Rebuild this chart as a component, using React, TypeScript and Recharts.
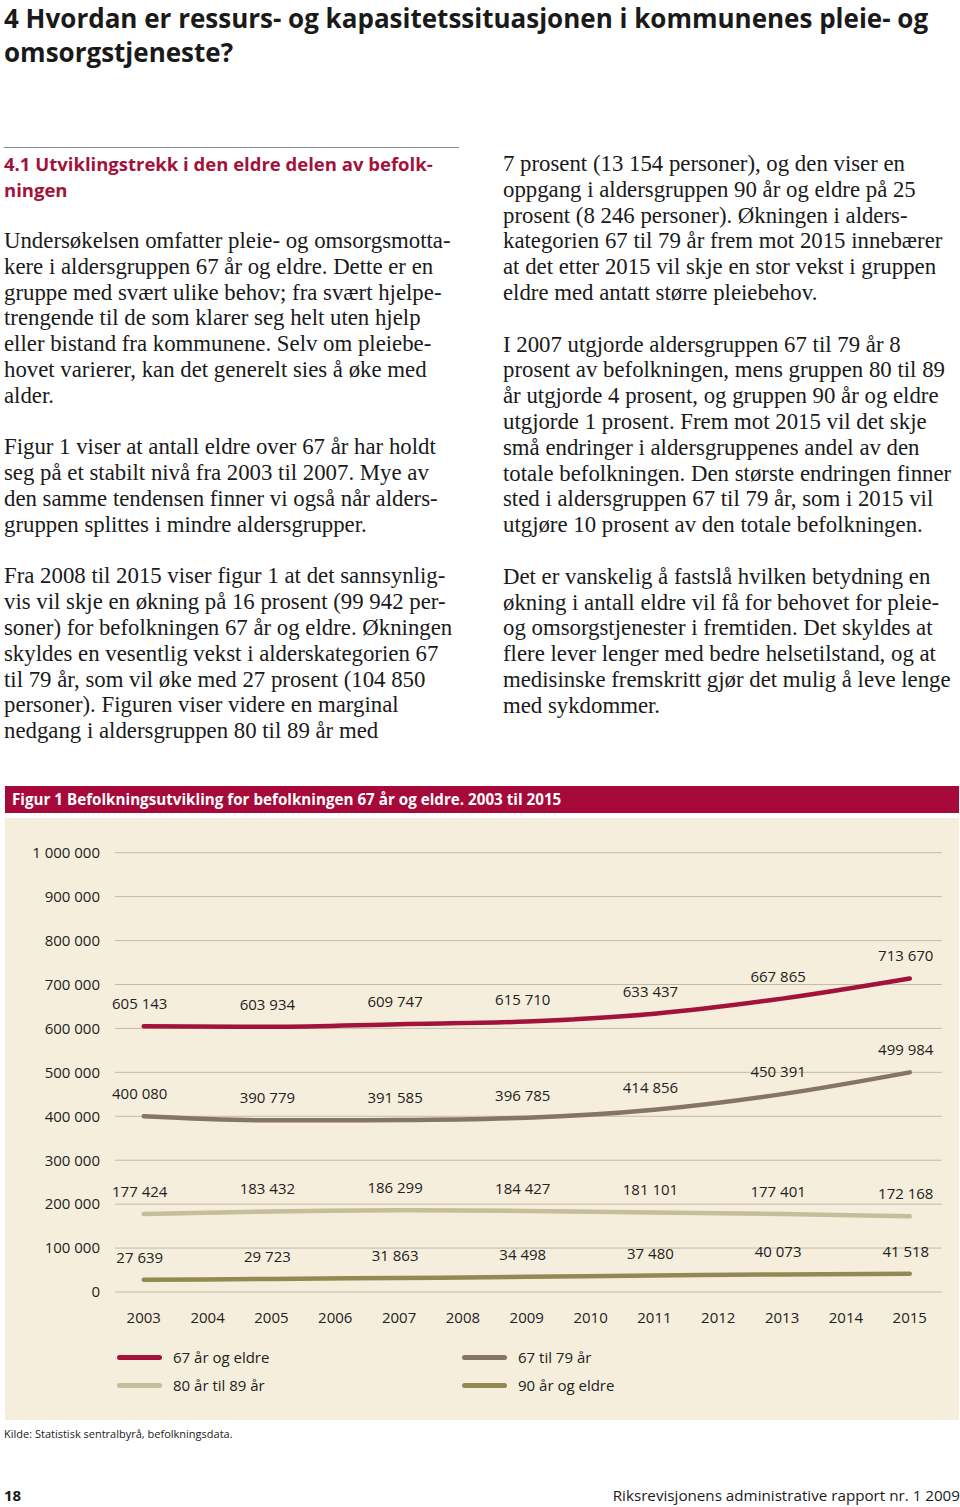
import React from "react";
import { LineChart, Line, XAxis, YAxis, CartesianGrid, LabelList } from "recharts";

// years with a value, and the tick years on the axis
const years = [2003, 2005, 2007, 2009, 2011, 2013, 2015];
const tickYears = [2003, 2004, 2005, 2006, 2007, 2008, 2009, 2010, 2011, 2012, 2013, 2014, 2015];
const yTicks = [0, 100000, 200000, 300000, 400000, 500000, 600000, 700000, 800000, 900000, 1000000];

const total67 = [605143, 603934, 609747, 615710, 633437, 667865, 713670];
const age67to79 = [400080, 390779, 391585, 396785, 414856, 450391, 499984];
const age80to89 = [177424, 183432, 186299, 184427, 181101, 177401, 172168];
const age90 = [27639, 29723, 31863, 34498, 37480, 40073, 41518];

const seriesNames = ["67 år og eldre", "67 til 79 år", "80 år til 89 år", "90 år og eldre"];
const seriesKeys = ["total67", "age67to79", "age80to89", "age90"];
const seriesColors = ["#A3123B", "#857468", "#C6BD9A", "#928A52"];

const data = years.map((year, i) => ({
  year,
  total67: total67[i],
  age67to79: age67to79[i],
  age80to89: age80to89[i],
  age90: age90[i],
}));

const fmt = (v: number) => String(v).replace(/\B(?=(\d{3})+(?!\d))/g, " ");

const leftText = [
  [
    "Undersøkelsen omfatter pleie- og omsorgsmotta-",
    "kere i aldersgruppen 67 år og eldre. Dette er en",
    "gruppe med svært ulike behov; fra svært hjelpe-",
    "trengende til de som klarer seg helt uten hjelp",
    "eller bistand fra kommunene. Selv om pleiebe-",
    "hovet varierer, kan det generelt sies å øke med",
    "alder.",
  ],
  [
    "Figur 1 viser at antall eldre over 67 år har holdt",
    "seg på et stabilt nivå fra 2003 til 2007. Mye av",
    "den samme tendensen finner vi også når alders-",
    "gruppen splittes i mindre aldersgrupper.",
  ],
  [
    "Fra 2008 til 2015 viser figur 1 at det sannsynlig-",
    "vis vil skje en økning på 16 prosent (99 942 per-",
    "soner) for befolkningen 67 år og eldre. Økningen",
    "skyldes en vesentlig vekst i alderskategorien 67",
    "til 79 år, som vil øke med 27 prosent (104 850",
    "personer). Figuren viser videre en marginal",
    "nedgang i aldersgruppen 80 til 89 år med",
  ],
];

const rightText = [
  [
    "7 prosent (13 154 personer), og den viser en",
    "oppgang i aldersgruppen 90 år og eldre på 25",
    "prosent (8 246 personer). Økningen i alders-",
    "kategorien 67 til 79 år frem mot 2015 innebærer",
    "at det etter 2015 vil skje en stor vekst i gruppen",
    "eldre med antatt større pleiebehov.",
  ],
  [
    "I 2007 utgjorde aldersgruppen 67 til 79 år 8",
    "prosent av befolkningen, mens gruppen 80 til 89",
    "år utgjorde 4 prosent, og gruppen 90 år og eldre",
    "utgjorde 1 prosent. Frem mot 2015 vil det skje",
    "små endringer i aldersgruppenes andel av den",
    "totale befolkningen. Den største endringen finner",
    "sted i aldersgruppen 67 til 79 år, som i 2015 vil",
    "utgjøre 10 prosent av den totale befolkningen.",
  ],
  [
    "Det er vanskelig å fastslå hvilken betydning en",
    "økning i antall eldre vil få for behovet for pleie-",
    "og omsorgstjenester i fremtiden. Det skyldes at",
    "flere lever lenger med bedre helsetilstand, og at",
    "medisinske fremskritt gjør det mulig å leve lenge",
    "med sykdommer.",
  ],
];

const sans = "'Open Sans', 'Noto Sans', sans-serif";
const serif = "'Liberation Serif', 'Times New Roman', serif";

const Column = ({ paras, left, top }: { paras: string[][]; left: number; top: number }) => (
  <div
    style={{
      position: "absolute",
      left,
      top,
      fontFamily: serif,
      fontSize: 22.8,
      lineHeight: "25.8px",
      color: "#1a1a1a",
      whiteSpace: "nowrap",
    }}
  >
    {paras.map((p, i) => (
      <div key={i} style={{ marginBottom: i < paras.length - 1 ? 25.8 : 0 }}>
        {p.map((line, j) => (
          <div key={j}>{line}</div>
        ))}
      </div>
    ))}
  </div>
);

const App = () => {
  return (
    <div
      style={{
        position: "absolute",
        left: 0,
        top: 0,
        width: 960,
        height: 1507,
        background: "#ffffff",
        overflow: "hidden",
      }}
    >
      <div
        style={{
          position: "absolute",
          left: 4,
          top: 1,
          fontFamily: sans,
          fontWeight: 700,
          fontSize: 26,
          lineHeight: "34px",
          color: "#1a1a1a",
          whiteSpace: "nowrap",
        }}
      >
        <div>4 Hvordan er ressurs- og kapasitetssituasjonen i kommunenes pleie- og</div>
        <div>omsorgstjeneste?</div>
      </div>

      <div style={{ position: "absolute", left: 4, top: 147, width: 455, height: 1, background: "#8a8a8a" }} />
      <div
        style={{
          position: "absolute",
          left: 4,
          top: 151,
          fontFamily: sans,
          fontWeight: 700,
          fontSize: 18.5,
          lineHeight: "26px",
          color: "#A3123B",
          whiteSpace: "nowrap",
        }}
      >
        <div>4.1 Utviklingstrekk i den eldre delen av befolk-</div>
        <div>ningen</div>
      </div>

      <Column paras={leftText} left={4} top={228} />
      <Column paras={rightText} left={503} top={151} />

      {/* figure */}
      <div
        style={{
          position: "absolute",
          left: 5,
          top: 786,
          width: 954,
          height: 27,
          background: "#A6093A",
        }}
      />
      <div
        style={{
          position: "absolute",
          left: 12,
          top: 786,
          height: 27,
          lineHeight: "27px",
          fontFamily: sans,
          fontWeight: 700,
          fontSize: 15.2,
          color: "#ffffff",
          whiteSpace: "nowrap",
        }}
      >
        Figur 1 Befolkningsutvikling for befolkningen 67 år og eldre. 2003 til 2015
      </div>
      <div
        style={{
          position: "absolute",
          left: 5,
          top: 818,
          width: 954,
          height: 602,
          background: "#F6EEDC",
        }}
      />

      <div style={{ position: "absolute", left: 0, top: 840 }}>
        <LineChart
          width={960}
          height={500}
          data={data}
          margin={{ top: 12.7, right: 18.3, left: 0, bottom: 18 }}
        >
          <CartesianGrid vertical={false} stroke="#C3BBA8" strokeWidth={1} />
          <XAxis
            dataKey="year"
            type="number"
            domain={[2002.55, 2015.5]}
            ticks={tickYears}
            allowDataOverflow
            axisLine={false}
            tickLine={false}
            tickSize={0}
            tickMargin={20}
            height={30}
            interval={0}
            tick={{ fontFamily: sans, fontSize: 15, fill: "#222" }}
          />
          <YAxis
            domain={[0, 1000000]}
            ticks={yTicks}
            width={115}
            axisLine={false}
            tickLine={false}
            tickSize={0}
            tickMargin={15}
            interval={0}
            tickFormatter={fmt}
            tick={{ fontFamily: sans, fontSize: 15, fill: "#222" }}
          />
          {seriesKeys.map((k, i) => (
            <Line
              key={k}
              dataKey={k}
              type="monotone"
              stroke={seriesColors[i]}
              strokeWidth={4.5}
              strokeLinecap="round"
              dot={false}
              activeDot={false}
              isAnimationActive={false}
            >
              <LabelList
                dataKey={k}
                position="top"
                offset={17}
                dx={-4}
                formatter={(v: any) => fmt(Number(v))}
                style={{ fontFamily: sans, fontSize: 15, fill: "#222" }}
              />
            </Line>
          ))}
        </LineChart>
      </div>

      {/* legend: col 1 row 1, col 2 row 1, col 1 row 2, col 2 row 2 */}
      {[0, 1, 2, 3].map((slot) => {
        const i = slot;
        const col = slot % 2;
        const row = Math.floor(slot / 2);
        const x = col === 0 ? 117 : 462;
        const y = row === 0 ? 1357 : 1385;
        return (
          <div key={slot}>
            <div
              style={{
                position: "absolute",
                left: x,
                top: y - 2.5,
                width: 45,
                height: 5,
                borderRadius: 2.5,
                background: seriesColors[i],
              }}
            />
            <div
              style={{
                position: "absolute",
                left: x + 56,
                top: y - 11,
                lineHeight: "22px",
                fontFamily: sans,
                fontSize: 15,
                color: "#222",
                whiteSpace: "nowrap",
              }}
            >
              {seriesNames[i]}
            </div>
          </div>
        );
      })}

      <div
        style={{
          position: "absolute",
          left: 4,
          top: 1426,
          fontFamily: sans,
          fontSize: 11,
          color: "#222",
          whiteSpace: "nowrap",
        }}
      >
        Kilde: Statistisk sentralbyrå, befolkningsdata.
      </div>

      <div
        style={{
          position: "absolute",
          left: 4,
          top: 1485,
          fontFamily: sans,
          fontWeight: 700,
          fontSize: 15,
          color: "#1a1a1a",
        }}
      >
        18
      </div>
      <div
        style={{
          position: "absolute",
          right: 0,
          top: 1485,
          fontFamily: sans,
          fontSize: 15.2,
          color: "#1a1a1a",
          whiteSpace: "nowrap",
        }}
      >
        Riksrevisjonens administrative rapport nr. 1 2009
      </div>
    </div>
  );
};

export default App;
